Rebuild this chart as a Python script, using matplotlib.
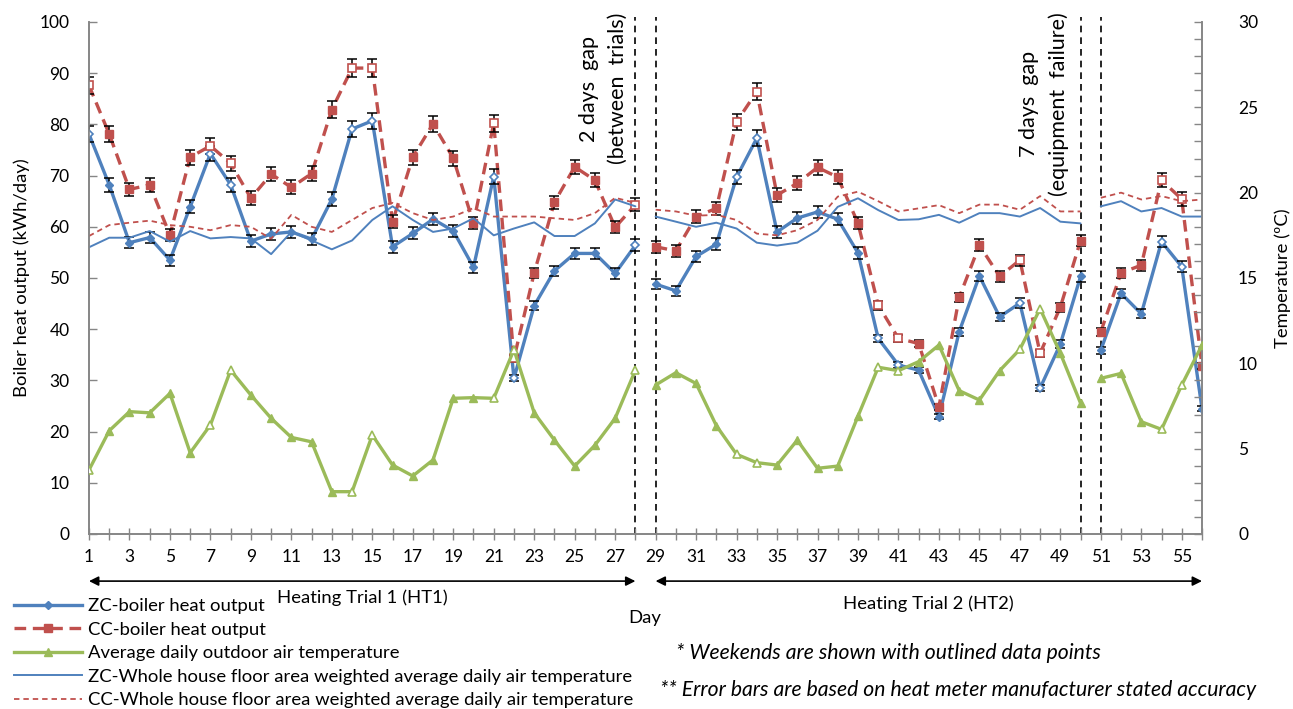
import matplotlib
matplotlib.use("Agg")
import matplotlib.pyplot as plt
import numpy as np
from matplotlib.lines import Line2D
from matplotlib.ticker import MultipleLocator, FixedLocator

plt.rcParams["font.family"] = ["Lato", "DejaVu Sans"]

# ---- data -----------------------------------------------------------------
days = np.arange(1, 57)
weekends = [1, 7, 8, 14, 15, 21, 22, 28, 33, 34, 40, 41, 47, 48, 54, 55]
segments = [(1, 28), (29, 50), (51, 56)]   # monitoring periods (gaps between)
meter_accuracy = 0.02                       # +/- fraction for error bars

zc_heat = [78.1, 68.2, 56.9, 57.9, 53.5, 63.9, 74.3, 68.2, 57.2, 58.6,
           59.0, 57.6, 65.4, 79.1, 80.7, 56.1, 58.7, 61.5, 59.2, 52.1,
           69.8, 30.4, 44.6, 51.4, 54.8, 54.8, 50.9, 56.4,
           48.8, 47.5, 54.2, 56.6, 69.7, 77.3, 59.0, 61.7, 62.9, 61.5,
           54.9, 38.2, 33.0, 32.0, 22.9, 39.5, 50.4, 42.4, 45.1, 28.5,
           37.1, 50.3,
           35.9, 47.0, 43.0, 57.1, 52.2, 24.5]
cc_heat = [87.6, 78.1, 67.3, 68.2, 58.4, 73.6, 75.8, 72.4, 65.6, 70.3,
           67.7, 70.4, 82.9, 91.0, 91.0, 61.0, 73.6, 80.1, 73.4, 60.7,
           80.2, 34.3, 51.0, 64.8, 71.7, 69.1, 59.9, 64.3,
           56.1, 55.3, 62.0, 63.6, 80.5, 86.4, 66.2, 68.5, 71.6, 69.7,
           60.7, 44.7, 38.2, 37.2, 24.8, 46.2, 56.4, 50.3, 53.5, 35.3,
           44.3, 57.3,
           39.5, 51.0, 52.5, 69.1, 65.4, 32.8]
outdoor_temp = [3.75, 6.05, 7.17, 7.10, 8.24, 4.76, 6.39, 9.60, 8.14, 6.78,
                5.66, 5.40, 2.48, 2.48, 5.80, 4.04, 3.40, 4.34, 7.95, 7.99,
                7.95, 10.8, 7.10, 5.50, 3.98, 5.20, 6.78, 9.60,
                8.73, 9.45, 8.82, 6.35, 4.67, 4.18, 4.04, 5.50, 3.85, 3.98,
                6.90, 9.77, 9.57, 10.1, 11.07, 8.40, 7.85, 9.57, 10.82, 13.2,
                10.59, 7.66,
                9.12, 9.41, 6.58, 6.13, 8.73, 11.07]
zc_house_temp = [16.8, 17.36, 17.36, 17.75, 17.13, 17.75, 17.32, 17.4, 17.32, 16.4,
                 17.7, 17.2, 16.68, 17.2, 18.4, 19.2, 18.4, 17.7, 17.9, 18.5,
                 17.5, 17.9, 18.26, 17.46, 17.46, 18.2, 19.6, 19.2,
                 18.6, 18.3, 18.0, 18.24, 17.9, 17.07, 16.9, 17.07, 17.77, 19.17,
                 19.67, 18.98, 18.4, 18.44, 18.7, 18.24, 18.8, 18.8, 18.6, 19.1,
                 18.3, 18.2,
                 19.2, 19.5, 18.9, 19.1, 18.6, 18.6]
cc_house_temp = [17.46, 18.1, 18.24, 18.36, 18.1, 18.0, 17.8, 18.1, 18.0, 17.3,
                 18.7, 18.0, 17.7, 18.4, 19.1, 19.4, 18.8, 18.4, 18.6, 19.1,
                 18.6, 18.6, 18.6, 18.5, 18.4, 18.8, 19.7, 19.4,
                 19.0, 18.9, 18.65, 18.7, 18.4, 17.6, 17.5, 17.8, 18.4, 19.77,
                 20.06, 19.5, 18.9, 19.08, 19.27, 18.8, 19.3, 19.3, 19.0, 19.8,
                 18.9, 18.9,
                 19.7, 20.0, 19.6, 19.8, 19.5, 19.6]

labels = [
    "ZC-boiler heat output",
    "CC-boiler heat output",
    "Average daily outdoor air temperature",
    "ZC-Whole house floor area weighted average daily air temperature",
    "CC-Whole house floor area weighted average daily air temperature",
]

BLUE = "#4F81BD"
RED = "#C0504D"
GREEN = "#9BBB59"
AXIS = "#868686"
FS = 12.5        # tick labels
FS_TEXT = 13.3   # legend and captions
FS_NOTE = 15.2   # italic notes
FS_GAP = 15.5    # rotated gap notes

# ---- figure ---------------------------------------------------------------
W, H = 1293, 709
fig = plt.figure(figsize=(W / 100, H / 100), dpi=100)
ax = fig.add_axes([89 / W, 1 - 534 / H, (1202 - 89) / W, (534 - 22) / H])
ax2 = ax.twinx()

is_weekend = np.isin(days, weekends)


def draw_series(axis, values, color, lw, ls, marker, ms, errors=False):
    vals = np.asarray(values, dtype=float)
    for start, end in segments:
        m = (days >= start) & (days <= end)
        axis.plot(days[m], vals[m], color=color, lw=lw, ls=ls, zorder=2,
                  solid_capstyle="round", dash_capstyle="butt")
    if errors:
        axis.errorbar(days, vals, yerr=vals * meter_accuracy, fmt="none",
                      ecolor="black", elinewidth=1.1, capsize=3.5,
                      capthick=1.1, zorder=3)
    if marker:
        axis.plot(days[~is_weekend], vals[~is_weekend], ls="none",
                  marker=marker, ms=ms, mfc=color, mec=color, zorder=4)
        axis.plot(days[is_weekend], vals[is_weekend], ls="none",
                  marker=marker, ms=ms, mfc="white", mec=color, mew=1.2,
                  zorder=4)


dash_thick = (0, (3.5, 2.0))
dash_thin = (0, (3.0, 2.2))

draw_series(ax, zc_heat, BLUE, 2.4, "-", "D", 4.0, errors=True)
draw_series(ax, cc_heat, RED, 2.4, dash_thick, "s", 6.0, errors=True)
draw_series(ax2, outdoor_temp, GREEN, 2.4, "-", "^", 6.0)
draw_series(ax2, zc_house_temp, BLUE, 1.4, "-", None, 0)
draw_series(ax2, cc_house_temp, RED, 1.3, dash_thin, None, 0)

# gap markers
for d in (28, 29, 50, 51):
    ax.plot([d, d], [0, 101], color="black", lw=1.2, ls=(0, (4, 3)),
            clip_on=False, zorder=1)

ax.text(26.4, 87.0, "2 days  gap\n(between  trials)", rotation=90,
        ha="center", va="center", multialignment="center",
        fontsize=FS_GAP, linespacing=1.55)
ax.text(48.2, 84.0, "7 days  gap\n(equipment  failure)", rotation=90,
        ha="center", va="center", multialignment="center",
        fontsize=FS_GAP, linespacing=1.55)

# ---- axes styling ---------------------------------------------------------
ax.set_xlim(1, 56)
ax.set_ylim(0, 100)
ax2.set_ylim(0, 30)

ax.xaxis.set_major_locator(FixedLocator(days[::2]))
ax.xaxis.set_minor_locator(FixedLocator(days[1::2]))
ax.tick_params(axis="x", which="both", direction="inout", length=8,
               color=AXIS, width=1, labelsize=FS, pad=7)
ax.yaxis.set_major_locator(MultipleLocator(10))
ax.tick_params(axis="y", which="major", direction="in", length=6,
               color=AXIS, width=1, labelsize=FS, pad=14)
ax2.yaxis.set_major_locator(MultipleLocator(5))
ax2.yaxis.set_minor_locator(MultipleLocator(1))
ax2.tick_params(axis="y", which="both", direction="in", length=6,
                color=AXIS, width=1, labelsize=FS, pad=26)

for a in (ax, ax2):
    a.spines["top"].set_visible(False)
    for s in ("left", "right", "bottom"):
        a.spines[s].set_color(AXIS)
        a.spines[s].set_linewidth(1.2)
ax.set_ylabel("Boiler heat output (kWh/day)", fontsize=FS_TEXT, labelpad=7)
ax2.set_ylabel("Temperature (ºC)", fontsize=FS_TEXT, labelpad=12)

# ---- heating trial arrows and bottom texts --------------------------------
trans = ax.get_xaxis_transform()
for start, end in ((1, 28), (29, 56)):
    ax.annotate("", xy=(start, -0.092), xytext=(end, -0.092),
                xycoords=trans, textcoords=trans,
                arrowprops=dict(arrowstyle="<|-|>", color="black", lw=1.2,
                                mutation_scale=14, shrinkA=0, shrinkB=0))
ax.text(14.5, -0.125, "Heating Trial 1 (HT1)", transform=trans,
        ha="center", va="center", fontsize=FS_TEXT)
ax.text(42.5, -0.137, "Heating Trial 2 (HT2)", transform=trans,
        ha="center", va="center", fontsize=FS_TEXT)
fig.text(645 / W, 1 - 618 / H, "Day", ha="center", va="center",
         fontsize=FS_TEXT)

fig.text(676 / W, 1 - 653 / H, "* Weekends are shown with outlined data points",
         ha="left", va="center", fontsize=FS_NOTE, style="italic")
fig.text(660 / W, 1 - 690 / H,
         "** Error bars are based on heat meter manufacturer stated accuracy",
         ha="left", va="center", fontsize=FS_NOTE, style="italic")

handles = [
    Line2D([], [], color=BLUE, lw=2.4, marker="D", ms=4.0),
    Line2D([], [], color=RED, lw=2.4, ls=dash_thick, marker="s", ms=6.0),
    Line2D([], [], color=GREEN, lw=2.4, marker="^", ms=6.0),
    Line2D([], [], color=BLUE, lw=1.4),
    Line2D([], [], color=RED, lw=1.3, ls=dash_thin),
]
fig.legend(handles, labels, loc="upper left",
           bbox_to_anchor=(14 / W, 1 - 598 / H), frameon=False,
           fontsize=FS_TEXT, handlelength=3.7, handletextpad=0.3,
           labelspacing=0.41, borderpad=0, borderaxespad=0)

fig.savefig("out.png", dpi=100)
